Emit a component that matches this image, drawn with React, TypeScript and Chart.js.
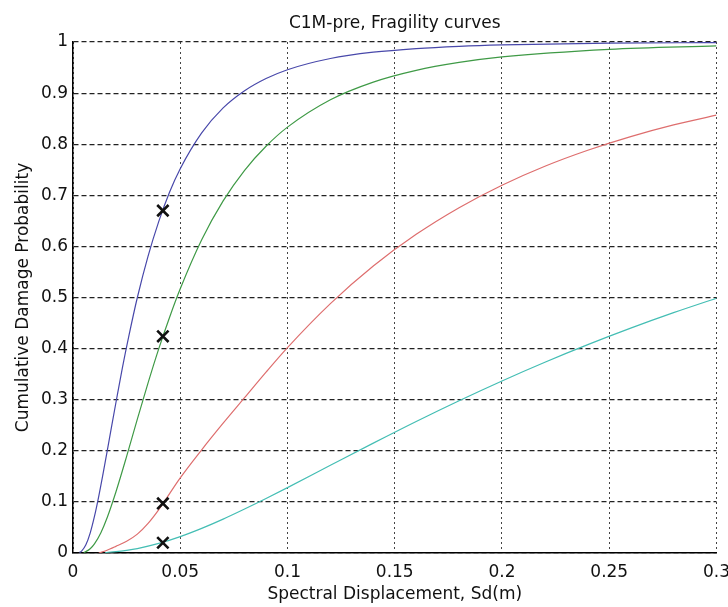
import React, { useEffect, useRef } from "react";
import { Chart, registerables } from "chart.js";

Chart.register(...registerables);

const TITLE = "C1M-pre, Fragility curves";
const X_TITLE = "Spectral Displacement, Sd(m)";
const Y_TITLE = "Cumulative Damage Probability";

// Slight (blue)
const slightSd = [0.003, 0.004, 0.006, 0.008, 0.01, 0.012, 0.014, 0.016, 0.018, 0.02, 0.023, 0.026, 0.03, 0.035, 0.04, 0.045, 0.05, 0.06, 0.07, 0.08, 0.09, 0.1, 0.12, 0.14, 0.16, 0.18, 0.2, 0.25, 0.3];
const slightP = [0.001, 0.0036, 0.016, 0.039, 0.0715, 0.111, 0.155, 0.201, 0.248, 0.294, 0.362, 0.424, 0.5, 0.581, 0.649, 0.706, 0.752, 0.822, 0.871, 0.9046, 0.9285, 0.9458, 0.9677, 0.98, 0.9872, 0.9916, 0.9943, 0.9977, 0.9989];

// Moderate (green)
const moderateSd = [0.005, 0.006, 0.008, 0.01, 0.013, 0.016, 0.02, 0.025, 0.03, 0.035, 0.04, 0.045, 0.05, 0.06, 0.07, 0.08, 0.09, 0.1, 0.12, 0.14, 0.16, 0.18, 0.2, 0.25, 0.3];
const moderateP = [0.001, 0.0027, 0.0082, 0.0178, 0.0398, 0.07, 0.1194, 0.189, 0.262, 0.333, 0.4, 0.461, 0.517, 0.613, 0.689, 0.749, 0.796, 0.8334, 0.887, 0.9216, 0.9446, 0.96, 0.9708, 0.9857, 0.9925];

// Extensive (red)
const extensiveSd = [0.012, 0.015, 0.02, 0.025, 0.03, 0.035, 0.04, 0.05, 0.06, 0.07, 0.08, 0.09, 0.1, 0.12, 0.14, 0.16, 0.18, 0.2, 0.22, 0.24, 0.26, 0.28, 0.3];
const extensiveP = [0, 0.004, 0.013, 0.023, 0.037, 0.058, 0.085, 0.147, 0.202, 0.254, 0.304, 0.354, 0.402, 0.488, 0.5616, 0.6236, 0.6758, 0.7198, 0.7569, 0.7882, 0.8149, 0.8377, 0.857];

// Complete (cyan)
const completeSd = [0.015, 0.02, 0.025, 0.03, 0.04, 0.05, 0.06, 0.07, 0.08, 0.09, 0.1, 0.12, 0.14, 0.16, 0.18, 0.2, 0.22, 0.24, 0.26, 0.28, 0.3];
const completeP = [0.001, 0.0026, 0.0052, 0.0087, 0.0187, 0.0321, 0.0482, 0.0663, 0.086, 0.1066, 0.128, 0.1716, 0.215, 0.2574, 0.298, 0.3367, 0.3733, 0.4077, 0.44, 0.4703, 0.4986];

// Performance-point markers
const markerSd = [0.0419, 0.0419, 0.0419, 0.0419];
const markerP = [0.67, 0.424, 0.097, 0.02];

const X_MIN = 0;
const X_MAX = 0.3;
const X_STEP = 0.05;
const Y_MIN = 0;
const Y_MAX = 1;
const Y_STEP = 0.1;

const FONT = "'DejaVu Sans', Verdana, sans-serif";
const FONT_SIZE = 17;

function zip(xs: number[], ys: number[]) {
  return xs.map((x, i) => ({ x, y: ys[i] }));
}

function fmt(v: number | string) {
  return String(+Number(v).toFixed(3));
}

export default function App() {
  const ref = useRef<HTMLCanvasElement | null>(null);

  useEffect(() => {
    const canvas = ref.current;
    if (!canvas) return;
    const curve = (data: any[], color: string) => ({
      data,
      showLine: true,
      borderColor: color,
      backgroundColor: color,
      borderWidth: 1.2,
      pointRadius: 0,
      pointHoverRadius: 0,
      cubicInterpolationMode: "monotone" as const,
      fill: false,
    });
    const chart = new Chart(canvas, {
      type: "scatter",
      data: {
        datasets: [
          {
            data: zip(markerSd, markerP),
            showLine: false,
            pointStyle: "crossRot",
            pointRadius: 8,
            pointBorderWidth: 2.6,
            borderColor: "#111",
            backgroundColor: "#111",
          } as any,
          curve(zip(slightSd, slightP), "#4848aa"),
          curve(zip(moderateSd, moderateP), "#3f9a46"),
          curve(zip(extensiveSd, extensiveP), "#de6e6e"),
          curve(zip(completeSd, completeP), "#44beb4"),
        ],
      },
      options: {
        responsive: false,
        animation: false,
        devicePixelRatio: 1,
        layout: { padding: { left: 0, right: 20, top: 0, bottom: 0 } },
        plugins: {
          legend: { display: false },
          tooltip: { enabled: false },
          title: {
            display: true,
            text: TITLE,
            fullSize: false,
            color: "#111",
            font: { family: FONT, size: FONT_SIZE, weight: "normal" },
            padding: { top: 13, bottom: 8.6 },
          },
        },
        scales: {
          x: {
            type: "linear",
            min: X_MIN,
            max: X_MAX,
            afterFit: (s: any) => {
              s.height = 54;
            },
            ticks: {
              stepSize: X_STEP,
              autoSkip: false,
              maxRotation: 0,
              padding: 9,
              color: "#111",
              font: { family: FONT, size: FONT_SIZE },
              callback: (v: any) => fmt(v),
            },
            grid: { color: "#444", lineWidth: 1, drawTicks: false },
            border: { display: true, color: "#000", width: 1.5, dash: [2, 3] },
            title: {
              display: true,
              text: X_TITLE,
              color: "#111",
              font: { family: FONT, size: FONT_SIZE },
              padding: { top: 0, bottom: 2 },
            },
          },
          y: {
            type: "linear",
            min: Y_MIN,
            max: Y_MAX,
            afterFit: (s: any) => {
              s.width = 73;
            },
            ticks: {
              stepSize: Y_STEP,
              autoSkip: false,
              padding: 5,
              color: "#111",
              font: { family: FONT, size: FONT_SIZE },
              callback: (v: any) => fmt(v),
            },
            grid: { color: "#222", lineWidth: 1.2, drawTicks: false },
            border: { display: true, color: "#000", width: 1.5, dash: [5, 3] },
            title: {
              display: true,
              text: Y_TITLE,
              color: "#111",
              font: { family: FONT, size: FONT_SIZE },
              padding: { top: 13, bottom: 0 },
            },
          },
        },
      },
    });
    return () => chart.destroy();
  }, []);

  return (
    <div
      style={{
        position: "fixed",
        left: 0,
        top: 0,
        width: 728,
        height: 607,
        overflow: "hidden",
        background: "#fff",
      }}
    >
      <canvas ref={ref} width={739} height={607} style={{ width: 739, height: 607, display: "block" }} />
    </div>
  );
}
